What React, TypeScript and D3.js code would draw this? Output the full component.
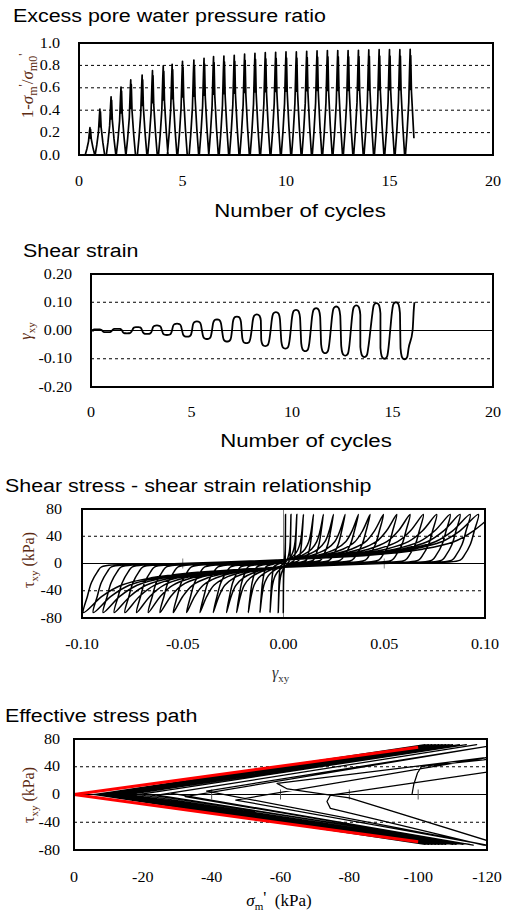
import React from "react";
import * as d3 from "d3";

// ---------------- Data ----------------
// Chart 1: excess pore water pressure ratio (peaks per half cycle)
const ruTicks = [0, 0.2, 0.4, 0.6, 0.8, 1.0];
const cycleTicks = [0, 5, 10, 15, 20];
const ruPeakCycle = [0.53, 1.01, 1.55, 2.03, 2.5, 3.05, 3.55, 4.07, 4.5, 5.0, 5.55, 6.04, 6.5, 7.0, 7.5, 8.0, 8.5, 9.0, 9.5, 10.0, 10.5, 11.0, 11.5, 12.0, 12.5, 13.0, 13.5, 14.0, 14.5, 15.0, 15.5, 16.0];
const ruPeak = [0.244, 0.41, 0.52, 0.607, 0.67, 0.714, 0.753, 0.795, 0.81, 0.836, 0.848, 0.863, 0.878, 0.884, 0.89, 0.9, 0.908, 0.914, 0.917, 0.92, 0.92, 0.926, 0.929, 0.932, 0.932, 0.932, 0.935, 0.938, 0.94, 0.94, 0.94, 0.943];
// spike shape: time offset (cycles) / fraction of the peak
const ruSpikeDt = [-0.23, -0.15, -0.07, -0.025, 0, 0.012, 0.026, 0.06, 0.14, 0.23];
const ruSpikeFrac = [0, 0.22, 0.5, 0.85, 1, 0.62, 0.94, 0.6, 0.28, 0];
const ruEndCycle = 16.18;
const ruEndValue = 0.15;

// Chart 2: shear strain lobes
const strainTicks = [-0.2, -0.1, 0, 0.1, 0.2];
const strainLobeCycle = [0.3, 0.8, 1.3, 1.79, 2.3, 2.79, 3.28, 3.78, 4.28, 4.78, 5.27, 5.77, 6.27, 6.77, 7.26, 7.73, 8.25, 8.67, 9.2, 9.67, 10.2, 10.66, 11.2, 11.65, 12.2, 12.65, 13.2, 13.6, 14.2, 14.6, 15.17, 15.6];
const strainLobePeak = [0.004, -0.006, 0.006, -0.01, 0.012, -0.012, 0.018, -0.016, 0.024, -0.022, 0.032, -0.03, 0.039, -0.039, 0.049, -0.045, 0.057, -0.055, 0.065, -0.064, 0.073, -0.073, 0.079, -0.08, 0.085, -0.089, 0.089, -0.094, 0.097, -0.1, 0.1, -0.102];
const strainLobeDt = [-0.2, -0.14, -0.07, 0, 0.07, 0.14, 0.2];
const strainLobeFrac = [0.62, 0.9, 0.98, 1, 0.98, 0.9, 0.62];
const strainEndCycle = [16.0, 16.06, 16.09];
const strainEndValue = [0, 0.075, 0.1];

// Chart 3: shear stress - shear strain loops
const ssStrainTicks = [-0.1, -0.05, 0, 0.05, 0.1];
const stressTicks = [-80, -40, 0, 40, 80];
const ssPosTip = [0.001, 0.0037, 0.0066, 0.0099, 0.0149, 0.0198, 0.0248, 0.0306, 0.0372, 0.043, 0.0496, 0.0562, 0.0628, 0.0694, 0.076, 0.0827, 0.0876, 0.0926, 0.0967];
const ssNegTip = [-0.0001, -0.0026, -0.0067, -0.0117, -0.0175, -0.0233, -0.0283, -0.0349, -0.0415, -0.0481, -0.0547, -0.0613, -0.0671, -0.0729, -0.0787, -0.084, -0.0895, -0.0944, -0.0993];
const ssFinalTip = 0.104;
const ssLoadFrac = [0, 0.15, 0.3, 0.45, 0.6, 0.72, 0.82, 0.9, 0.95, 1.0];
const ssLoadStress = [-5, -1, 2, 5, 9, 14, 21, 32, 48, 72];
const ssUnloadDg = [0, 0.002, 0.004, 0.007, 0.009];
const ssUnloadStress = [72, 48, 28, 12, 5];

// Chart 4: effective stress path
const sigmaTicks = [0, -20, -40, -60, -80, -100, -120];
const spEarlySigma = [-98.2, -98.7, -99.8, -101, -119, -128, -124, -74.5, -73.5, -74.5, -119, -127, -80, -62, -59, -119.5, -128];
const spEarlyTau = [0, 14, 31, 40.5, 50, 56, 35, -1, -10, -20, -73, -77, -5, 8, 16, 53, 60];
const spMinSigma = [-47, -38.5, -32.3, -28, -24.2, -20.1, -18.6, -16.1, -14.9, -13.4, -12, -11.4, -10.8, -9.8, -9, -8.4, -8.1, -7.8, -7.8, -7.3, -7, -6.7, -6.7, -6.7, -6.4, -6.1, -5.9, -5.9, -5.9, -5.6];
const spMinTau = [-8, 5, -3, 2, -1, 1, 0, 0, 0, 0, 0, 0, 0, 0, 0, 0, 0, 0, 0, 0, 0, 0, 0, 0, 0, 0, 0, 0, 0, 0];
const spTipSigma = [-121, -122, -116, -117, -115, -114, -113, -112, -111, -110, -110, -109, -108, -108, -107, -107, -106, -106, -105, -105, -105, -104, -104, -104, -103, -103, -103, -102, -102];
const spTipTau = [-74, 71, -73, 72, -72, 72, -72, 72, -72, 72, -72, 72, -72, 72, -72, 72, -72, 72, -72, 72, -72, 72, -72, 72, -72, 72, -72, 72, -72];
const spFinalSigma = -82;
const spFinalTau = 54;
const failureSigma = [0, -100];
const failureTauUp = [0, 68];
const failureTauDown = [0, -68];

// ---------------- Helpers ----------------
const SERIF = "'Liberation Serif', 'Times New Roman', serif";
const SANS = "'Liberation Sans', Arial, sans-serif";
const BROWN = "#5c2b12";
const SX = 1.15;

type P = [number, number];

function T(props: any) {
  const { x, y, children, size = 14, anchor = "middle", family = SERIF, fill = "#000", sx = SX, baseline = "central", rotate = 0, italic = false } = props;
  return (
    <text
      transform={`translate(${x},${y}) rotate(${rotate}) scale(${sx},1)`}
      fontSize={size}
      fontFamily={family}
      textAnchor={anchor}
      dominantBaseline={baseline}
      fill={fill}
      fontStyle={italic ? "italic" : "normal"}
    >
      {children}
    </text>
  );
}

function Frame({ x, y }: any) {
  const [x0, x1] = x.range();
  const [y0, y1] = y.range();
  return (
    <rect x={Math.min(x0, x1)} y={Math.min(y0, y1)} width={Math.abs(x1 - x0)} height={Math.abs(y1 - y0)} fill="none" stroke="#000" strokeWidth={2} />
  );
}

function Clip({ id, x, y }: any) {
  const [x0, x1] = x.range();
  const [y0, y1] = y.range();
  return (
    <clipPath id={id}>
      <rect x={Math.min(x0, x1)} y={Math.min(y0, y1)} width={Math.abs(x1 - x0)} height={Math.abs(y1 - y0)} />
    </clipPath>
  );
}

function HLine({ x, yv, dashed = true, stroke = "#000" }: any) {
  const [x0, x1] = x.range();
  return <line x1={x0} x2={x1} y1={yv} y2={yv} stroke={stroke} strokeWidth={1} strokeDasharray={dashed ? "3,3" : undefined} />;
}

// ---------------- Chart 1 ----------------
function Chart1() {
  const x = d3.scaleLinear().domain([0, 20]).range([79, 493]);
  const y = d3.scaleLinear().domain([0, 1]).range([155, 43]);
  const pts: P[] = [[0, 0]];
  ruPeakCycle.forEach((c, i) => {
    const last = i === ruPeakCycle.length - 1;
    ruSpikeDt.forEach((dt, j) => {
      if (last && dt > 0.06) return;
      pts.push([c + dt, ruPeak[i] * ruSpikeFrac[j]]);
    });
  });
  pts.push([ruEndCycle, ruEndValue]);
  const line = d3.line<P>().x((d) => x(d[0])).y((d) => y(d[1]));
  return (
    <g>
      <defs><Clip id="c1" x={x} y={y} /></defs>
      {ruTicks.filter((v) => v > 0 && v < 1).map((v) => <HLine key={v} x={x} yv={y(v)} />)}
      <path d={line(pts) || ""} fill="none" stroke="#000" strokeWidth={1.7} strokeLinejoin="round" clipPath="url(#c1)" />
      <Frame x={x} y={y} />
      {ruTicks.map((v) => <T key={v} x={60} y={y(v)} anchor="end">{v.toFixed(1)}</T>)}
      {cycleTicks.map((v) => <T key={v} x={x(v)} y={181.5}>{String(v)}</T>)}
      <T x={300} y={216.5} size={19} family={SANS} sx={1.17} baseline="alphabetic">Number of cycles</T>
      <text transform="translate(33,86) rotate(-90)" textAnchor="middle" fontFamily={SERIF} fontSize={17} fill={BROWN}>
        1-<tspan fontStyle="italic">σ</tspan><tspan fontSize={12} dy={4}>m</tspan><tspan dy={-10} fontSize={12}>'</tspan><tspan dy={6}>/</tspan><tspan fontStyle="italic">σ</tspan><tspan fontSize={12} dy={4}>m0</tspan><tspan dy={-10} fontSize={12}>'</tspan>
      </text>
      <T x={13} y={22} size={18} family={SANS} anchor="start" sx={1.19} baseline="alphabetic">Excess pore water pressure ratio</T>
    </g>
  );
}

// ---------------- Chart 2 ----------------
function Chart2() {
  const x = d3.scaleLinear().domain([0, 20]).range([91, 493]);
  const y = d3.scaleLinear().domain([-0.2, 0.2]).range([387, 274]);
  const pts: P[] = [[0, 0]];
  strainLobeCycle.forEach((c, i) => {
    const prev = i === 0 ? 0.1 : (strainLobeCycle[i - 1] + c) / 2;
    pts.push([prev, 0]);
    strainLobeDt.forEach((dt, j) => pts.push([c + dt, strainLobePeak[i] * strainLobeFrac[j]]));
  });
  strainEndCycle.forEach((c, i) => pts.push([c, strainEndValue[i]]));
  const line = d3.line<P>().x((d) => x(d[0])).y((d) => y(d[1])).curve(d3.curveMonotoneX);
  return (
    <g>
      <defs><Clip id="c2" x={x} y={y} /></defs>
      <HLine x={x} yv={y(0.1)} />
      <HLine x={x} yv={y(-0.1)} />
      <HLine x={x} yv={y(0)} dashed={false} />
      <path d={line(pts) || ""} fill="none" stroke="#000" strokeWidth={1.8} clipPath="url(#c2)" />
      <Frame x={x} y={y} />
      {strainTicks.map((v) => <T key={v} x={72} y={y(v)} anchor="end">{v.toFixed(2)}</T>)}
      {cycleTicks.map((v) => <T key={v} x={x(v)} y={412.5}>{String(v)}</T>)}
      <T x={306} y={446.5} size={19} family={SANS} sx={1.17} baseline="alphabetic">Number of cycles</T>
      <text transform="translate(31,331) rotate(-90)" textAnchor="middle" fontFamily={SERIF} fontSize={16} fill={BROWN}>
        <tspan fontStyle="italic">γ</tspan><tspan fontSize={11} dy={4}>xy</tspan>
      </text>
      <T x={23} y={256.5} size={18} family={SANS} anchor="start" sx={1.19} baseline="alphabetic">Shear strain</T>
    </g>
  );
}

// ---------------- Chart 3 ----------------
function Chart3() {
  const x = d3.scaleLinear().domain([-0.1, 0.1]).range([82, 485]);
  const y = d3.scaleLinear().domain([-80, 80]).range([618, 509]);
  const pts: P[] = [[0, 0]];
  const tips: P[] = [];
  ssPosTip.forEach((p, i) => { tips.push([p, 1]); tips.push([ssNegTip[i], -1]); });
  tips.push([ssFinalTip, 1]);
  let gs = 0;
  tips.forEach(([A, sign], k) => {
    ssLoadFrac.forEach((f, j) => {
      if (j === 0) return;
      pts.push([gs + f * (A - gs), sign * ssLoadStress[j]]);
    });
    if (k === tips.length - 1) return;
    const s = Math.min(1, Math.abs(A - gs) / 0.06);
    ssUnloadDg.forEach((dg, j) => {
      if (j === 0) return;
      pts.push([A - sign * dg * s, sign * ssUnloadStress[j]]);
    });
    gs = A - sign * ssUnloadDg[ssUnloadDg.length - 1] * s;
  });
  const line = d3.line<P>().x((d) => x(d[0])).y((d) => y(d[1])).curve(d3.curveCatmullRom.alpha(0.5));
  return (
    <g>
      <defs><Clip id="c3" x={x} y={y} /></defs>
      <HLine x={x} yv={y(40)} />
      <HLine x={x} yv={y(-40)} />
      <HLine x={x} yv={y(0)} dashed={false} />
      <line x1={x(0)} x2={x(0)} y1={y(80)} y2={y(-80)} stroke="#808080" strokeWidth={1} />
      {ssStrainTicks.map((v) => <line key={v} x1={x(v)} x2={x(v)} y1={y(0) - 5} y2={y(0) + 5} stroke="#808080" strokeWidth={1} />)}
      <path d={line(pts) || ""} fill="none" stroke="#000" strokeWidth={1.5} clipPath="url(#c3)" />
      <Frame x={x} y={y} />
      {stressTicks.map((v) => <T key={v} x={62} y={y(v)} anchor="end">{String(v)}</T>)}
      {ssStrainTicks.map((v) => <T key={v} x={x(v)} y={644}>{v.toFixed(2)}</T>)}
      <text transform="translate(272,678)" fontFamily={SERIF} fontSize={16} fill="#333">
        <tspan fontStyle="italic">γ</tspan><tspan fontSize={11} dy={4}>xy</tspan>
      </text>
      <text transform="translate(34,560) rotate(-90)" textAnchor="middle" fontFamily={SERIF} fontSize={16} fill={BROWN}>
        <tspan>τ</tspan><tspan fontSize={11} dy={4}>xy</tspan><tspan dy={-4}> (kPa)</tspan>
      </text>
      <T x={5} y={491.5} size={18} family={SANS} anchor="start" sx={1.19} baseline="alphabetic">Shear stress - shear strain relationship</T>
    </g>
  );
}

// ---------------- Chart 4 ----------------
function Chart4() {
  const x = d3.scaleLinear().domain([0, -120]).range([74, 487]);
  const y = d3.scaleLinear().domain([-80, 80]).range([850, 739]);
  const pts: P[] = spEarlySigma.map((s, i) => [s, spEarlyTau[i]] as P);
  spMinSigma.forEach((s, i) => {
    pts.push([s, spMinTau[i]]);
    if (i < spTipSigma.length) pts.push([spTipSigma[i], spTipTau[i]]);
  });
  pts.push([spFinalSigma, spFinalTau]);
  const line = d3.line<P>().x((d) => x(d[0])).y((d) => y(d[1]));
  const up: P[] = failureSigma.map((s, i) => [s, failureTauUp[i]]);
  const down: P[] = failureSigma.map((s, i) => [s, failureTauDown[i]]);
  return (
    <g>
      <defs><Clip id="c4" x={x} y={y} /></defs>
      <HLine x={x} yv={y(40)} />
      <HLine x={x} yv={y(-40)} />
      <HLine x={x} yv={y(0)} dashed={false} />
      {sigmaTicks.filter((v) => v < 0 && v > -120).map((v) => <line key={v} x1={x(v)} x2={x(v)} y1={y(0) - 5} y2={y(0) + 5} stroke="#555" strokeWidth={1} />)}
      <path d={line(pts) || ""} fill="none" stroke="#000" strokeWidth={1.25} strokeLinejoin="round" clipPath="url(#c4)" />
      <path d={line(up) || ""} fill="none" stroke="#ff0000" strokeWidth={3} />
      <path d={line(down) || ""} fill="none" stroke="#ff0000" strokeWidth={3} />
      <Frame x={x} y={y} />
      {stressTicks.map((v) => <T key={v} x={60} y={y(v)} anchor="end">{String(v)}</T>)}
      {sigmaTicks.map((v) => <T key={v} x={x(v)} y={877.5}>{String(v)}</T>)}
      <text transform="translate(279,906)" textAnchor="middle" fontFamily={SERIF} fontSize={17} fill="#000">
        <tspan fontStyle="italic">σ</tspan><tspan fontSize={11} dy={4}>m</tspan><tspan dy={-7}>'</tspan><tspan dy={3}>{"\u00a0\u00a0(kPa)"}</tspan>
      </text>
      <text transform="translate(34,795) rotate(-90)" textAnchor="middle" fontFamily={SERIF} fontSize={16} fill={BROWN}>
        <tspan>τ</tspan><tspan fontSize={11} dy={4}>xy</tspan><tspan dy={-4}> (kPa)</tspan>
      </text>
      <T x={5} y={721.5} size={18} family={SANS} anchor="start" sx={1.19} baseline="alphabetic">Effective stress path</T>
    </g>
  );
}

export default function App() {
  return (
    <svg width={505} height={913} viewBox="0 0 505 913" style={{ position: "absolute", left: 0, top: 0, background: "#fff" }}>
      <rect x={0} y={0} width={505} height={913} fill="#fff" />
      <Chart1 />
      <Chart2 />
      <Chart3 />
      <Chart4 />
    </svg>
  );
}
